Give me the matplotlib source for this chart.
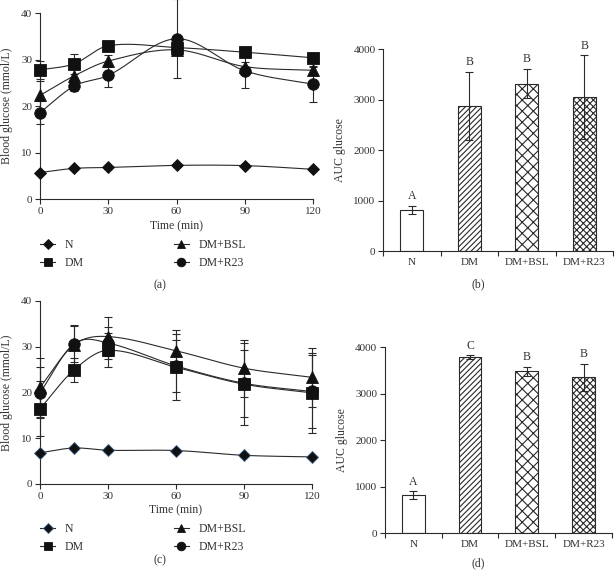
import matplotlib
matplotlib.use("Agg")
import matplotlib.pyplot as plt
import numpy as np

plt.rcParams['font.family'] = ['Liberation Serif', 'DejaVu Serif']
plt.rcParams['hatch.linewidth'] = 0.8

# ------------------ data ------------------
time = [0, 15, 30, 60, 90, 120]
groups = ['N', 'DM', 'DM+BSL', 'DM+R23']
markers = ['D', 's', '^', 'o']

# panel (a)
a_mean = {
    'N':      [5.7, 6.6, 6.8, 7.25, 7.2, 6.4],
    'DM':     [27.8, 29.1, 33.0, 32.6, 31.6, 30.4],
    'DM+BSL': [22.3, 26.5, 29.7, 32.1, 28.5, 27.7],
    'DM+R23': [18.6, 24.3, 26.6, 34.5, 27.6, 24.7],
}
a_err = {
    'N':      [0.3, 0.3, 0.3, 0.3, 0.3, 0.3],
    'DM':     [2.0, 2.1, 0.8, 0.8, 0.5, 0.5],
    'DM+BSL': [3.0, 1.5, 1.3, 1.0, 1.0, 1.0],
    'DM+R23': [2.4, 1.0, 2.5, 8.5, 3.8, 3.8],
}

# panel (c)
c_mean = {
    'N':      [6.8, 7.85, 7.35, 7.3, 6.25, 5.9],
    'DM':     [16.4, 24.9, 29.2, 25.5, 21.8, 19.9],
    'DM+BSL': [21.1, 30.4, 32.2, 29.1, 25.3, 23.3],
    'DM+R23': [19.9, 30.6, 30.8, 25.8, 22.0, 20.2],
}
c_err = {
    'N':      [0.3, 0.3, 0.3, 0.3, 0.3, 0.3],
    'DM':     [6.0, 2.6, 3.7, 7.2, 8.9, 8.8],
    'DM+BSL': [6.4, 4.4, 4.2, 4.6, 6.2, 6.4],
    'DM+R23': [5.6, 3.9, 3.5, 5.7, 7.3, 7.9],
}

# panels (b) and (d)
b_auc = [820, 2880, 3320, 3050]
b_err = [80, 670, 290, 830]
b_letters = ['A', 'B', 'B', 'B']

d_auc = [820, 3790, 3480, 3350]
d_err = [85, 35, 100, 295]
d_letters = ['A', 'C', 'B', 'B']

hatches = ['', '//////', 'xxx', 'xxxxx']

FS = 8
LC = '#2a2a2a'
TC = '#333333'
MS = {'D': 6.6, 's': 8.3, '^': 8.3, 'o': 8.3}


def smooth(x, y, n=30):
    # hermite curve through the points, only for drawing the line
    x = np.asarray(x, float)
    y = np.asarray(y, float)
    m = np.zeros_like(y)
    m[1:-1] = (y[2:] - y[:-2]) / (x[2:] - x[:-2])
    m[0] = (y[1] - y[0]) / (x[1] - x[0])
    m[-1] = (y[-1] - y[-2]) / (x[-1] - x[-2])
    xs, ys = [], []
    for i in range(len(x) - 1):
        h = x[i + 1] - x[i]
        t = np.linspace(0, 1, n)
        h00 = 2 * t**3 - 3 * t**2 + 1
        h10 = t**3 - 2 * t**2 + t
        h01 = -2 * t**3 + 3 * t**2
        h11 = t**3 - t**2
        xs.append(x[i] + t * h)
        ys.append(h00 * y[i] + h10 * h * m[i] + h01 * y[i + 1] + h11 * h * m[i + 1])
    return np.concatenate(xs), np.concatenate(ys)


def style_axes(ax):
    for s in ['top', 'right']:
        ax.spines[s].set_visible(False)
    for s in ['left', 'bottom']:
        ax.spines[s].set_linewidth(0.8)
        ax.spines[s].set_color(LC)
    ax.tick_params(direction='out', length=3.5, width=0.8, labelsize=FS, color=LC,
                   labelcolor=TC, pad=2)


def line_panel(ax, mean, err, n_edge):
    for g, mk in zip(groups, markers):
        sx, sy = smooth(time, mean[g])
        ax.plot(sx, sy, color=LC, lw=0.8, clip_on=False)
        ax.errorbar(time, mean[g], yerr=err[g], fmt='none', ecolor=LC,
                    elinewidth=0.8, capsize=3, capthick=0.8, clip_on=False)
        ec = n_edge if g == 'N' else '#111111'
        ax.plot(time, mean[g], ls='none', marker=mk, ms=MS[mk],
                mfc='#111111', mec=ec, mew=0.6, clip_on=False, zorder=4)
    ax.set_xlim(0, 120)
    ax.set_ylim(0, 40)
    ax.set_xticks([0, 30, 60, 90, 120])
    ax.set_yticks([0, 10, 20, 30, 40])
    ax.set_xlabel('Time (min)', fontsize=FS + 0.5, labelpad=3, color=TC)
    ax.set_ylabel('Blood glucose (mmol/L)', fontsize=FS + 0.5, labelpad=6, color=TC)
    style_axes(ax)
    # legend handles with line through marker
    leg_h = []
    for g, mk in zip(groups, markers):
        ec = n_edge if g == 'N' else '#111111'
        lh, = ax.plot([], [], color=LC, lw=0.8, marker=mk, ms=MS[mk] * 0.75,
                      mfc='#111111', mec=ec, mew=0.6)
        leg_h.append(lh)
    ax.legend(leg_h, groups, ncol=2, loc='upper left', bbox_to_anchor=(0.0, -0.215),
              frameon=False, fontsize=FS + 0.5, handlelength=1.3, handletextpad=0.8,
              columnspacing=7.6, labelspacing=0.5, borderaxespad=0, borderpad=0,
              labelcolor=TC)


def bar_panel(ax, vals, errs, letters):
    x = np.arange(len(groups))
    bars = ax.bar(x, vals, width=0.4, color='white', edgecolor=LC, linewidth=0.8,
                  yerr=errs, error_kw=dict(ecolor=LC, elinewidth=0.8, capsize=3, capthick=0.8))
    for b, h in zip(bars, hatches):
        b.set_hatch(h)
    for i in range(len(groups)):
        ax.text(x[i], vals[i] + errs[i] + 70, letters[i], ha='center', va='bottom',
                fontsize=FS + 0.5, color=TC)
    ax.set_xlim(-0.5, 3.5)
    ax.set_ylim(0, 4000)
    ax.set_yticks([0, 1000, 2000, 3000, 4000])
    ax.set_xticks(x)
    ax.set_xticklabels(groups)
    ax.set_xticks(np.arange(-0.5, 4.0, 1.0), minor=True)
    ax.set_ylabel('AUC glucose', fontsize=FS + 0.5, labelpad=5, color=TC)
    style_axes(ax)
    ax.tick_params(axis='x', which='major', length=0, pad=5)
    ax.tick_params(axis='x', which='minor', length=3.5, width=0.8, color=LC)


fig = plt.figure(figsize=(6.15, 5.72), dpi=100)

ax_a = fig.add_axes([0.065, 0.652, 0.444, 0.325])
ax_b = fig.add_axes([0.623, 0.561, 0.374, 0.353])
ax_c = fig.add_axes([0.065, 0.154, 0.442, 0.320])
ax_d = fig.add_axes([0.626, 0.068, 0.369, 0.325])

line_panel(ax_a, a_mean, a_err, '#111111')
line_panel(ax_c, c_mean, c_err, '#3d5f8a')
bar_panel(ax_b, b_auc, b_err, b_letters)
bar_panel(ax_d, d_auc, d_err, d_letters)

fig.text(160 / 615, 1 - 285 / 572, '(a)', ha='center', va='center', fontsize=FS + 0.5, color=TC)
fig.text(478 / 615, 1 - 284 / 572, '(b)', ha='center', va='center', fontsize=FS + 0.5, color=TC)
fig.text(160 / 615, 1 - 560 / 572, '(c)', ha='center', va='center', fontsize=FS + 0.5, color=TC)
fig.text(478 / 615, 1 - 563 / 572, '(d)', ha='center', va='center', fontsize=FS + 0.5, color=TC)

fig.savefig('out.png', dpi=100)
